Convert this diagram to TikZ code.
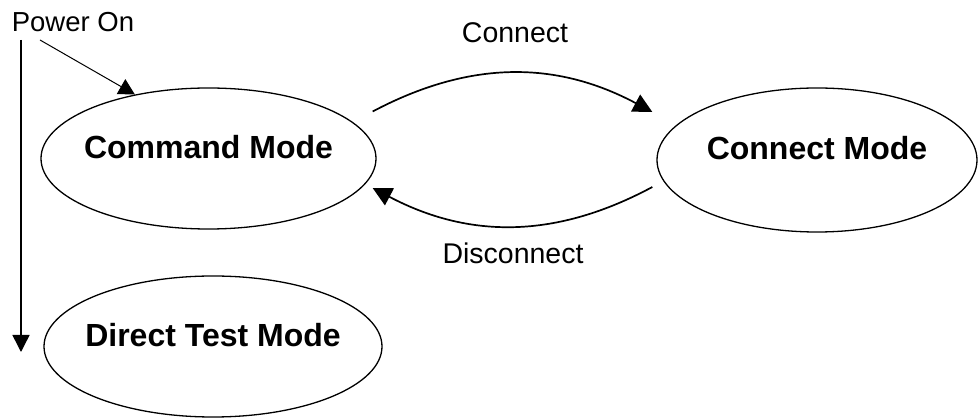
\documentclass[tikz,border=0pt]{standalone}
\usepackage{fontspec}
\setmainfont{Liberation Sans}
\usetikzlibrary{shapes.geometric,arrows.meta}

\begin{document}
\begin{tikzpicture}[x=1pt, y=-1pt,
        mode/.style={draw, ellipse, line width=1.3pt, inner xsep=-30pt, inner ysep=0pt,
            text depth=24pt, font=\fontsize{32}{36}\selectfont\bfseries},
        tag/.style={inner sep=0pt, font=\fontsize{28.5}{32}\selectfont},
        flow/.style={line width=1.7pt, -{Triangle[length=19pt, width=19pt]}}]
            \useasboundingbox (0,0) rectangle (978,419);
            \pgfmathsetmacro{\dx}{-4}

            \node[mode, minimum width=335pt, minimum height=141pt] (cmd) at (208.5,158.5) {Command Mode};
            \node[mode, minimum width=320pt, minimum height=144pt] (con) at (817,160) {Connect Mode};
            \node[mode, minimum width=338pt, minimum height=141pt] (dtm) at (213,346.5) {Direct Test Mode};

            \node[tag] (lconnect) at (515,33) {Connect};
            \node[tag] (ldisconnect) at (513,253) {Disconnect};
            \node[tag, font=\fontsize{27.5}{31}\selectfont] (pwr) at (73,22) {Power On};

            \draw[flow] ([xshift=\dx pt, yshift=47pt]cmd.east)
                to[bend left=28] ([xshift=\dx pt, yshift=48pt]con.west);
            \draw[flow] ([xshift=\dx pt, yshift=-27pt]con.west)
                to[bend left=28] ([xshift=\dx pt, yshift=-29.5pt]cmd.east);

            \coordinate (ptop) at (21,40);
            \coordinate (pbot) at (21,352);
            \coordinate (pslant) at (40,40);
            \draw[line width=1.5pt, -{Triangle[length=17pt, width=17pt]}] (ptop) -- (pbot);
            \draw[line width=1pt, -{Triangle[length=16pt, width=17pt]}] (pslant) -- (cmd.139);
        \end{tikzpicture}
\end{document}
